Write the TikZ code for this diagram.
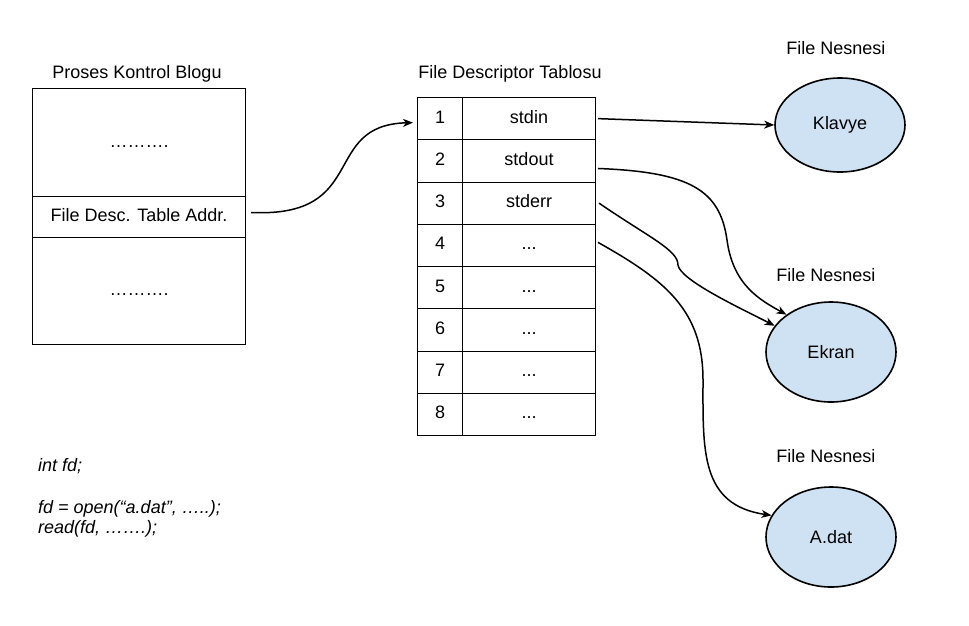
\documentclass[tikz,border=0pt]{standalone}
\usepackage{fontspec}
\setmainfont{Liberation Sans}
\usetikzlibrary{arrows.meta,shapes.geometric}
\definecolor{objblue}{HTML}{CFE2F3}
\newcommand{\fdgap}{...}

\begin{document}
\begin{tikzpicture}[x=1pt,y=-1pt,font=\fontsize{18}{22}\selectfont,
  cell/.style={draw,line width=1pt,minimum height=42.25pt,inner sep=0pt,text height=13pt,text depth=4pt,anchor=north west},
  fobj/.style={ellipse,draw,line width=1.6pt,fill=objblue,minimum width=130pt,minimum height=100pt,inner sep=0pt},
  link/.style={line width=1.5pt,-{Stealth[length=10pt,width=8pt,inset=3pt]}}]
\useasboundingbox (0,0) rectangle (969,625);
% proses kontrol blogu
\node (pcbtitle) at (137,74) {Proses Kontrol Blogu};
\node[cell,minimum width=213pt,minimum height=108pt] (pcbtop) at (32,88) {……….};
\node[cell,minimum width=213pt,minimum height=41pt] (pcbaddr) at (32,196) {File Desc. Table Addr.};
\node[cell,minimum width=213pt,minimum height=107pt] (pcbbot) at (32,237) {……….};
% file descriptor tablosu
\node (fdtitle) at (510,74) {File Descriptor Tablosu};
\foreach \i/\s in {1/stdin,2/stdout,3/stderr,4/\fdgap,5/\fdgap,6/\fdgap,7/\fdgap,8/\fdgap} {
  \node[cell,minimum width=45pt] (fdn\i) at (417,{97+(\i-1)*42.25}) {\i};
  \node[cell,minimum width=133pt] (fds\i) at (462,{97+(\i-1)*42.25}) {\s};
}
% file nesneleri
\node (klavyelbl) at (836,48) {File Nesnesi};
\node[fobj,minimum height=94pt] (klavye) at (840,125) {Klavye};
\node (ekranlbl) at (826,275) {File Nesnesi};
\node[fobj] (ekran) at (831,352) {Ekran};
\node (adatlbl) at (826,456) {File Nesnesi};
\node[fobj] (adat) at (831,537) {A.dat};
% kod
\node[anchor=base west,inner sep=0pt] (codel1) at (38,471) {\itshape int fd;};
\node[anchor=base west,inner sep=0pt] (codel2) at (38,513) {\itshape fd = open(“a.dat”, …..);};
\node[anchor=base west,inner sep=0pt] (codel3) at (38,533) {\itshape read(fd, …….);};
% baglantilar
\draw[link] ([xshift=5pt,yshift=4.5pt]pcbaddr.east) .. controls (370,218) and (320,125) .. ([xshift=-4pt,yshift=-4pt]fdn1.west);
\draw[link] ([xshift=2pt]fds1.east) -- (klavye.west);
\draw[link] ([xshift=2pt,yshift=-7.6pt]fds2.east) .. controls (690,172) and (720,190) .. (727,240) .. controls (733,285) and (760,300) .. (ekran.140);
\draw[link] ([xshift=3pt]fds3.east) .. controls (650,238) and (678,250) .. (678,265) .. controls (680,280) and (740,308) .. (ekran.155);
\draw[link] ([xshift=2pt,yshift=3pt]fds4.east) .. controls (665,280) and (703,310) .. (703,380) .. controls (703,450) and (700,505) .. (adat.160);
\end{tikzpicture}
\end{document}
